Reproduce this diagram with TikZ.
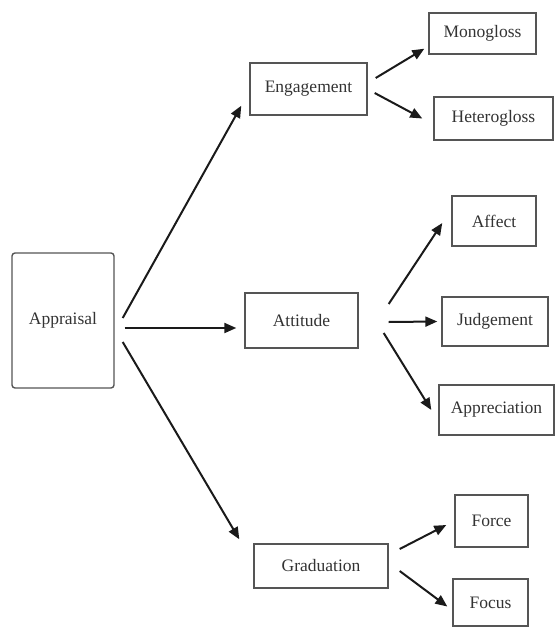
\documentclass[tikz,border=0pt]{standalone}
\usepackage{fontspec}
\setmainfont{Liberation Serif}
\usetikzlibrary{arrows.meta}
\definecolor{boxc}{HTML}{555555}
\definecolor{txtc}{HTML}{333333}
\definecolor{linec}{HTML}{1A1A1A}
\begin{document}
\begin{tikzpicture}[x=1pt,y=-1pt,
  box/.style={draw=boxc,line width=1.4pt,inner sep=0pt,text=txtc,
    font=\fontsize{17.5}{21}\selectfont},
  arr/.style={draw=linec,line width=2pt,-{Triangle[length=12pt,width=10pt]}}]
\useasboundingbox (0,0) rectangle (556,627);
% nodes
\node[box,rounded corners=3pt,minimum width=102pt,minimum height=135pt] (apr) at (63,320.5) {Appraisal};
\node[box,minimum width=117pt,minimum height=52pt] (eng) at (308.5,89) {Engagement};
\node[box,minimum width=107pt,minimum height=41pt] (mono) at (482.5,33.5) {Monogloss};
\node[box,minimum width=119pt,minimum height=43pt] (het) at (493.5,118.5) {Heterogloss};
\node[box,minimum width=113pt,minimum height=55pt] (att) at (301.5,320.5) {Attitude};
\node[box,minimum width=84pt,minimum height=50pt] (aff) at (494,221) {Affect};
\node[box,minimum width=106pt,minimum height=49pt] (jud) at (495,321.5) {Judgement};
\node[box,minimum width=115pt,minimum height=50pt] (app) at (496.5,410) {Appreciation};
\node[box,minimum width=134pt,minimum height=44pt] (grad) at (321,566) {Graduation};
\node[box,minimum width=73pt,minimum height=52pt] (for) at (491.5,521) {Force};
\node[box,minimum width=75pt,minimum height=47pt] (foc) at (490.5,602.5) {Focus};
% connectors
\draw[arr] ([xshift=8pt,yshift=2.5pt]apr.east) -- ([xshift=-8pt,yshift=10pt]eng.south west);
\draw[arr] ([xshift=10pt,yshift=-7.5pt]apr.east) -- ([xshift=-8pt,yshift=-7.5pt]att.west);
\draw[arr] ([xshift=8pt,yshift=-21.5pt]apr.east) -- ([xshift=-14pt,yshift=4pt]grad.north west);
\draw[arr] ([xshift=8pt,yshift=11pt]eng.east) -- ([xshift=-4pt,yshift=6pt]mono.south west);
\draw[arr] ([xshift=7pt,yshift=-4pt]eng.east) -- ([xshift=-11pt]het.west);
\draw[arr] ([xshift=30pt,yshift=16.5pt]att.east) -- ([xshift=-9pt,yshift=-2pt]aff.west);
\draw[arr] ([xshift=30pt,yshift=-1.5pt]att.east) -- ([xshift=-4pt]jud.west);
\draw[arr] ([xshift=25pt,yshift=-12.5pt]att.east) -- ([xshift=-7pt]app.west);
\draw[arr] ([xshift=11pt,yshift=17pt]grad.east) -- ([xshift=-8pt,yshift=-4pt]for.west);
\draw[arr] ([xshift=11pt,yshift=-5pt]grad.east) -- ([xshift=-5pt,yshift=-4pt]foc.west);
\end{tikzpicture}
\end{document}
